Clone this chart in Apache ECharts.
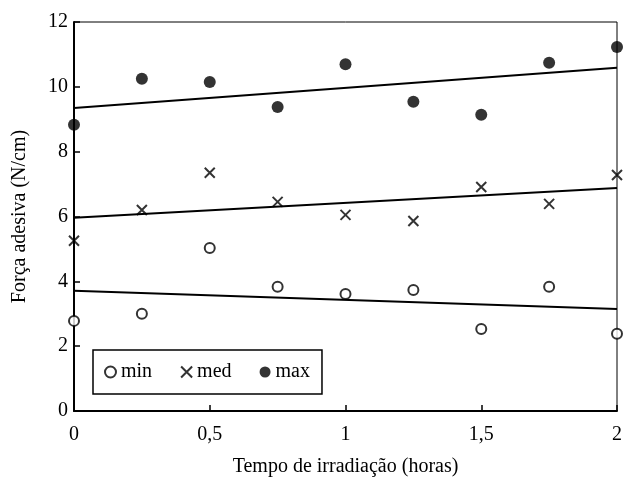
<!DOCTYPE html>
<html>
<head>
<meta charset="utf-8">
<script src="https://cdn.jsdelivr.net/npm/echarts@6/dist/echarts.min.js"></script>
<style>
  html, body { margin: 0; padding: 0; background: #fff; }
  #chart { width: 623px; height: 479px; }
</style>
</head>
<body>
<div id="chart"></div>
<script>
// Tempo de irradiação (horas)
const hours = [0, 0.25, 0.5, 0.75, 1, 1.25, 1.5, 1.75, 2]

// força adesiva medida
const minValues = [2.78, 3.0, 5.03, 3.83, 3.61, 3.73, 2.53, 3.83, 2.38]
const medValues = [5.25, 6.2, 7.35, 6.45, 6.05, 5.86, 6.91, 6.39, 7.28]
const maxValues = [8.83, 10.25, 10.15, 9.38, 10.7, 9.54, 9.14, 10.74, 11.23]

// retas de tendência (valores nas extremidades x=0 e x=2)
const trendX = [0, 2]
const minTrend = [3.71, 3.15]
const medTrend = [5.96, 6.88]
const maxTrend = [9.35, 10.59]

const seriesNames = ['min', 'med', 'max']

const font = 'Liberation Serif'

const zip = (xs, ys) => xs.map((x, i) => [x, ys[i]])

const crossPath = 'path://M0,0L10,10M10,0L0,10'

const chart = echarts.init(document.getElementById('chart'))

const trendLine = (values) => ({
  type: 'line',
  data: zip(trendX, values),
  symbol: 'none',
  silent: true,
  lineStyle: { color: '#000', width: 2 },
  z: 1
})

const option = {
  animation: false,
  textStyle: { fontFamily: font, color: '#000' },
  grid: {
    left: 74,
    right: 6,
    top: 22,
    bottom: 68,
    outerBoundsMode: 'none',
    show: true,
    borderColor: '#000',
    borderWidth: 1
  },
  legend: {
    data: seriesNames,
    left: 93,
    top: 350,
    orient: 'horizontal',
    borderColor: '#000',
    borderWidth: 1.5,
    padding: [12, 12, 12, 11],
    itemGap: 28,
    itemWidth: 11,
    itemHeight: 11,
    textStyle: { fontFamily: font, fontSize: 20, color: '#000' }
  },
  xAxis: {
    type: 'value',
    min: 0,
    max: 2,
    interval: 0.5,
    name: 'Tempo de irradiação (horas)',
    nameLocation: 'middle',
    nameGap: 46,
    nameTextStyle: { fontFamily: font, fontSize: 20, color: '#000' },
    splitLine: { show: false },
    axisLine: { lineStyle: { color: '#000', width: 2 } },
    axisTick: { inside: true, length: 6, lineStyle: { color: '#000', width: 1.5 } },
    axisLabel: {
      fontFamily: font,
      fontSize: 20,
      color: '#000',
      margin: 14,
      formatter: (v) => String(v).replace('.', ',')
    }
  },
  yAxis: {
    type: 'value',
    min: 0,
    max: 12,
    interval: 2,
    name: 'Força adesiva (N/cm)',
    nameLocation: 'middle',
    nameGap: 44,
    nameTextStyle: { fontFamily: font, fontSize: 20, color: '#000' },
    splitLine: { show: false },
    axisLine: { lineStyle: { color: '#000', width: 2 } },
    axisTick: { inside: true, length: 6, lineStyle: { color: '#000', width: 1.5 } },
    axisLabel: { fontFamily: font, fontSize: 20, color: '#000', margin: 6 }
  },
  series: [
    {
      name: 'min',
      type: 'scatter',
      data: zip(hours, minValues),
      symbol: 'emptyCircle',
      symbolSize: 10,
      itemStyle: { color: '#000', borderColor: '#000', borderWidth: 2 },
      z: 3
    },
    {
      name: 'med',
      type: 'scatter',
      data: zip(hours, medValues),
      symbol: crossPath,
      symbolSize: 10,
      itemStyle: { color: '#000', borderColor: '#000', borderWidth: 2 },
      z: 3
    },
    {
      name: 'max',
      type: 'scatter',
      data: zip(hours, maxValues),
      symbol: 'circle',
      symbolSize: 12,
      itemStyle: { color: '#000' },
      z: 3
    },
    trendLine(minTrend),
    trendLine(medTrend),
    trendLine(maxTrend)
  ]
}

chart.setOption(option)
</script>
</body>
</html>
